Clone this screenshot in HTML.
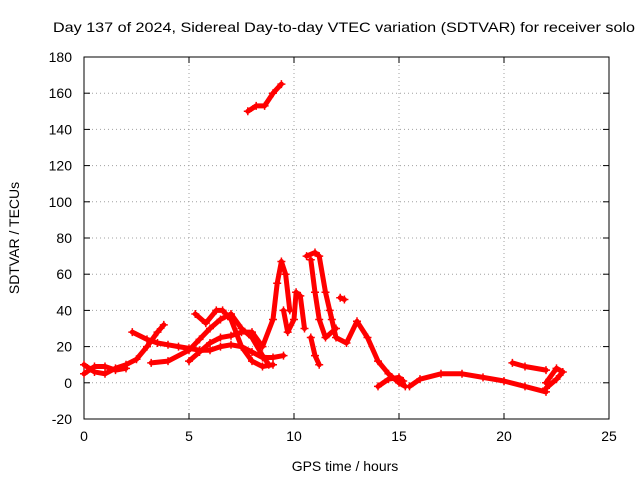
<!DOCTYPE html>
<html><head><meta charset="utf-8"><style>
body{margin:0;background:#fff;}
svg{display:block;font-family:"Liberation Sans",sans-serif;}
</style></head><body>
<svg id="chart" width="640" height="480">
<rect x="0" y="0" width="640" height="480" fill="#fff"/>
<text x="344" y="32" font-size="14" text-anchor="middle" textLength="582" lengthAdjust="spacingAndGlyphs">Day 137 of 2024, Sidereal Day-to-day VTEC variation (SDTVAR) for receiver solo</text>
<g id="grid"></g>
<g id="axes"></g>
<g id="series"></g>
<text x="345" y="471" font-size="14" text-anchor="middle">GPS time / hours</text>
<text transform="translate(19,238) rotate(-90)" font-size="14" text-anchor="middle">SDTVAR / TECUs</text>
</svg>
<script>
const xTicks=[0,5,10,15,20,25];
const yTicks=[-20,0,20,40,60,80,100,120,140,160,180];
const track1=[[7.8,150],[8.2,153],[8.6,153],[9.0,160],[9.4,165]];
const track2=[[0,10],[0.5,6],[1,5],[1.5,8],[2,10],[2.5,13],[3,20],[3.5,28],[3.8,32]];
const track3=[[0,5],[0.5,9],[1,9],[1.5,7],[2,8]];
const track4=[[2.3,28],[3,24],[3.5,22],[4,21],[4.5,20],[5,19],[5.5,18],[6,18],[6.5,20],[7,21],[7.5,20],[8,17],[8.5,14],[9,14],[9.5,15]];
const track5=[[3.2,11],[4,12],[5,18],[5.5,24],[6,30],[6.5,35],[7,38],[7.5,30],[8,25],[8.5,15],[8.8,10]];
const track6=[[5,12],[5.5,17],[6,22],[6.5,25],[7,26],[7.5,28],[8,28],[8.5,20],[9,35],[9.2,55],[9.4,67],[9.6,60],[9.8,40]];
const track7=[[5.3,38],[5.8,33],[6.3,40],[6.6,40],[7,35],[7.5,20],[8,12],[8.5,9],[9,10]];
const track8=[[9.5,40],[9.7,28],[10,35],[10.1,50],[10.3,48],[10.5,30]];
const track9=[[10.6,70],[11,72],[11.2,70],[11.5,50],[12,25],[12.5,22],[13,34],[13.5,25],[14,12],[14.5,5],[15,0],[15.3,-2]];
const track10=[[10.8,68],[11,50],[11.2,35],[11.5,25],[12,30]];
const track11=[[10.8,25],[11,15],[11.2,10]];
const track12=[[11.7,40],[11.8,35]];
const track13=[[12.2,47],[12.4,46]];
const track14=[[14,-2],[14.5,2],[15,3],[15.2,1]];
const track15=[[15.5,-2],[16,2],[17,5],[18,5],[19,3],[20,1],[21,-2],[22,-5]];
const track16=[[20.4,11],[21,9],[22,7]];
const track17=[[22,-3],[22.5,2],[22.8,6],[22.5,8],[22,0]];
const tracks=[track1,track2,track3,track4,track5,track6,track7,track8,track9,track10,track11,track12,track13,track14,track15,track16,track17];

const L=84,R=609,T=57,B=419;
const xs=v=>L+(v-0)/(25-0)*(R-L);
const ys=v=>B-(v+20)/(200)*(B-T);
const NS='http://www.w3.org/2000/svg';
const grid=document.getElementById('grid'),axes=document.getElementById('axes'),ser=document.getElementById('series');
function mk(tag,attrs,parent){const e=document.createElementNS(NS,tag);for(const k in attrs)e.setAttribute(k,attrs[k]);parent.appendChild(e);return e;}
xTicks.forEach(t=>{
  const x=xs(t);
  if(t>0&&t<25){const g=mk('line',{x1:x,x2:x,y1:T,y2:B,stroke:'#a0a0a0','stroke-dasharray':'1,3'},grid);
  
  }
  mk('line',{x1:x,x2:x,y1:B,y2:B-6,stroke:'#000'},axes);
  mk('line',{x1:x,x2:x,y1:T,y2:T+6,stroke:'#000'},axes);
  const lb=mk('text',{x:x,y:B+22,'font-size':14,'text-anchor':'middle'},axes);lb.textContent=t;
  
  
});
yTicks.forEach(t=>{
  const y=ys(t);
  if(t>-20&&t<180){const g=mk('line',{x1:L,x2:R,y1:y,y2:y,stroke:'#a0a0a0','stroke-dasharray':'1,3'},grid);
  
  }
  mk('line',{x1:L,x2:L+6,y1:y,y2:y,stroke:'#000'},axes);
  mk('line',{x1:R,x2:R-6,y1:y,y2:y,stroke:'#000'},axes);
  const lb=mk('text',{x:L-12,y:y+5,'font-size':14,'text-anchor':'end'},axes);lb.textContent=t;
  
  
});
const frame=mk('rect',{x:L,y:T,width:R-L,height:B-T,fill:'none',stroke:'#000'},axes);


tracks.forEach((tr,i)=>{
  const d=tr.map((p,j)=>(j?'L':'M')+xs(p[0]).toFixed(1)+','+ys(p[1]).toFixed(1)).join(' ');
  const pl=mk('path',{d:d,fill:'none',stroke:'#ff0000','stroke-width':5,'stroke-linejoin':'round','stroke-linecap':'round'},ser);
  
  
  tr.forEach(p=>{
    const x=xs(p[0]),y=ys(p[1]);
    const m=mk('path',{d:`M${x-4},${y}H${x+4}M${x},${y-4}V${y+4}`,stroke:'#ff0000','stroke-width':1.5},ser);
    
    
  });
});
</script>
</body></html>
